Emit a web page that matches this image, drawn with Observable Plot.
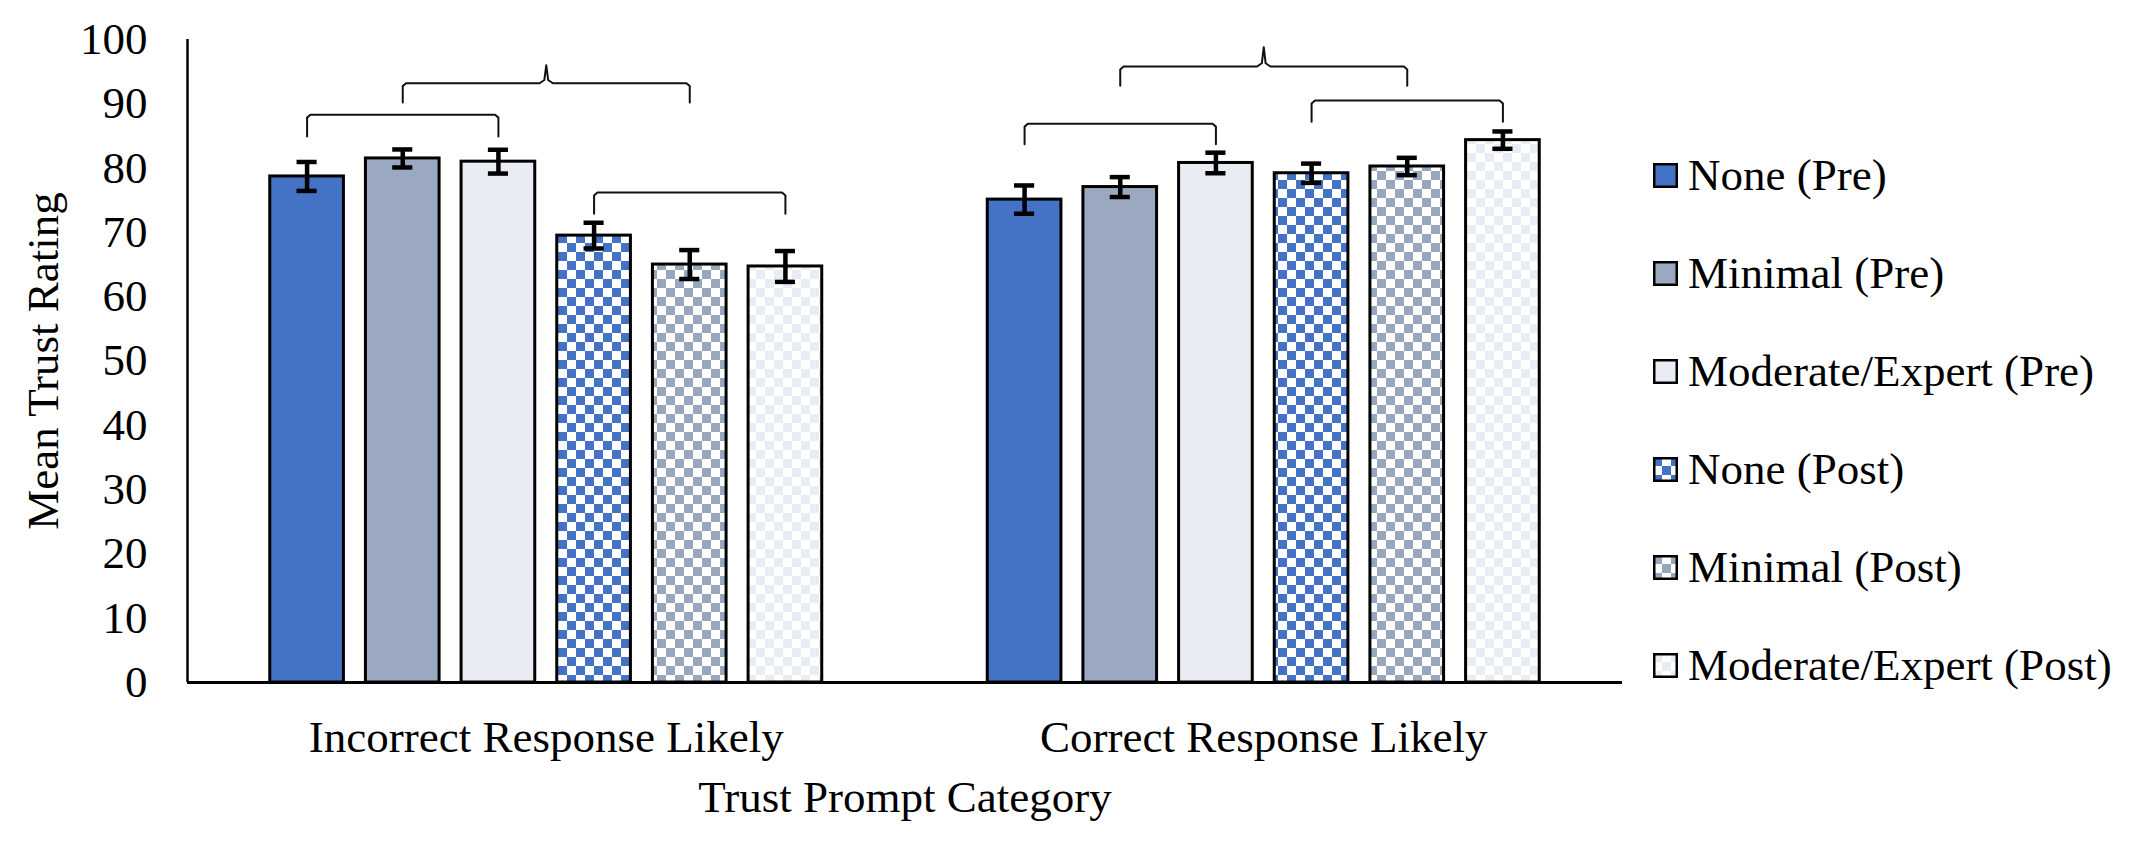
<!DOCTYPE html>
<html>
<head>
<meta charset="utf-8">
<script src="https://cdn.jsdelivr.net/npm/d3@7"></script>
<script src="https://cdn.jsdelivr.net/npm/@observablehq/plot@0.6"></script>
<style>
  html, body { margin: 0; padding: 0; background: #fff; }
  #wrap { position: relative; width: 2145px; height: 852px; font-family: "Liberation Serif", "Times New Roman", serif; }
  #chart { position: absolute; left: 0; top: 0; }
  #legend { position: absolute; left: 1653px; top: 126px; }
  .item { display: flex; align-items: center; height: 98px; font-size: 45px; color: #000; white-space: nowrap; }
  .item svg { margin-right: 10px; flex: none; display: block; }
</style>
</head>
<body>
<div id="wrap"><div id="chart"></div><div id="legend"></div></div>
<script>
// ---- data ----
const groups = ["Incorrect Response Likely", "Correct Response Likely"];
const series = ["None (Pre)", "Minimal (Pre)", "Moderate/Expert (Pre)", "None (Post)", "Minimal (Post)", "Moderate/Expert (Post)"];
const incorrectMeans = [78.7, 81.5, 81.0, 69.5, 65.0, 64.7];
const incorrectErrors = [2.25, 1.4, 1.85, 2.0, 2.25, 2.4];
const correctMeans = [75.1, 77.05, 80.8, 79.2, 80.25, 84.35];
const correctErrors = [2.2, 1.55, 1.6, 1.5, 1.35, 1.35];
const yTicks = [0, 10, 20, 30, 40, 50, 60, 70, 80, 90, 100];

// significance brackets (group index, from series, to series, levels in rating units)
const bracketGroup = [0, 0, 0, 1, 1, 1];
const bracketFrom = [0, 3, 1, 0, 3, 1];
const bracketTo = [2, 5, 4, 2, 5, 4];
const bracketTop = [88.3, 76.2, 93.2, 86.9, 90.5, 95.8];
const bracketLeg = [84.9, 72.9, 90.2, 83.7, 87.2, 92.8];
const bracketPeak = [null, null, 96.0, null, null, 98.8];

// ---- styles ----
const baseColors = ["#4472C4", "#9AA9BF", "#E9EDF3"];
const patternIds = ["chkBlue", "chkGray", "chkLight"];
const postColors = ["#4472C4", "#97A7BE", "#E8ECF3"];
const fills = [...baseColors, ...patternIds.map(id => `url(#${id})`)];

// ---- layout helpers ----
const groupStride = 7.5, firstOffset = 1.25, halfBar = 0.385, capHalf = 0.105;
const pos = (gi, si) => gi * groupStride + firstOffset + si;
const meansByGroup = [incorrectMeans, correctMeans];
const errorsByGroup = [incorrectErrors, correctErrors];

const rows = groups.flatMap((g, gi) => series.map((s, si) => ({
  group: g, series: s, mean: meansByGroup[gi][si], err: errorsByGroup[gi][si], x: pos(gi, si)
})));

const bracketPts = [];
bracketGroup.forEach((gi, b) => {
  const x0 = pos(gi, bracketFrom[b]), x1 = pos(gi, bracketTo[b]);
  const top = bracketTop[b], leg = bracketLeg[b];
  const pts = [[x0, leg], [x0, top - 0.45], [x0 + 0.035, top]];
  if (bracketPeak[b] != null) {
    const mid = (x0 + x1) / 2, pk = bracketPeak[b];
    pts.push([mid - 0.07, top], [mid - 0.02, top + 0.5], [mid, pk], [mid + 0.02, top + 0.5], [mid + 0.07, top]);
  }
  pts.push([x1 - 0.035, top], [x1, top - 0.45], [x1, leg]);
  pts.forEach(([x, y]) => bracketPts.push({id: b, x, y}));
});

const groupCenters = groups.map((g, gi) => (pos(gi, 0) + pos(gi, series.length - 1)) / 2);

const chart = Plot.plot({
  width: 1640,
  height: 852,
  marginLeft: 187,
  marginRight: 18,
  marginTop: 39,
  marginBottom: 170,
  style: {fontFamily: "'Liberation Serif', 'Times New Roman', serif", fontSize: "45px", color: "#000", background: "#fff"},
  x: {domain: [0, 15], axis: null},
  y: {domain: [0, 100], axis: null},
  color: {domain: series, range: fills},
  marks: [
    Plot.rectY(rows, {x1: d => d.x - halfBar, x2: d => d.x + halfBar, y1: 0, y2: "mean", fill: "series", stroke: "#000", strokeWidth: 3}),
    Plot.ruleX(rows, {x: "x", y1: d => d.mean - d.err, y2: d => d.mean + d.err, stroke: "#000", strokeWidth: 4.5}),
    Plot.ruleY(rows, {y: d => d.mean + d.err, x1: d => d.x - capHalf, x2: d => d.x + capHalf, stroke: "#000", strokeWidth: 4.5}),
    Plot.ruleY(rows, {y: d => d.mean - d.err, x1: d => d.x - capHalf, x2: d => d.x + capHalf, stroke: "#000", strokeWidth: 4.5}),
    Plot.line(bracketPts, {x: "x", y: "y", z: "id", stroke: "#111", strokeWidth: 2, curve: "linear"}),
    Plot.ruleX([0], {stroke: "#000", strokeWidth: 2.5}),
    Plot.ruleY([0], {stroke: "#000", strokeWidth: 3}),
    Plot.axisY({ticks: yTicks, tickSize: 0, tickPadding: 40, label: null, fontSize: 45}),
    Plot.axisX({ticks: groupCenters, tickFormat: (d, i) => groups[i], tickSize: 0, tickPadding: 38, label: null, fontSize: 45}),
    Plot.text(["Mean Trust Rating"], {text: d => d, frameAnchor: "left", textAnchor: "middle", lineAnchor: "middle", dx: -144, rotate: -90, fontSize: 45, fill: "#000"}),
    Plot.text(["Trust Prompt Category"], {text: d => d, frameAnchor: "bottom", dy: 129, fontSize: 45, fill: "#000"})
  ]
});

// checkerboard patterns for the "Post" series
const defs = d3.select(chart).insert("defs", ":first-child");
patternIds.forEach((id, i) => {
  const p = defs.append("pattern").attr("id", id).attr("patternUnits", "userSpaceOnUse").attr("width", 18).attr("height", 18);
  p.append("rect").attr("width", 18).attr("height", 18).attr("fill", "#fff");
  p.append("rect").attr("width", 9).attr("height", 9).attr("fill", postColors[i]);
  p.append("rect").attr("x", 9).attr("y", 9).attr("width", 9).attr("height", 9).attr("fill", postColors[i]);
});
document.getElementById("chart").appendChild(chart);

// legend
const legend = d3.select("#legend");
series.forEach((s, i) => {
  const item = legend.append("div").attr("class", "item");
  const sw = item.append("svg").attr("width", 25).attr("height", 25);
  sw.append("rect").attr("x", 1.25).attr("y", 1.25).attr("width", 22.5).attr("height", 22.5)
    .attr("fill", fills[i]).attr("stroke", "#000").attr("stroke-width", 2.5);
  item.append("span").text(s);
});
</script>
</body>
</html>
